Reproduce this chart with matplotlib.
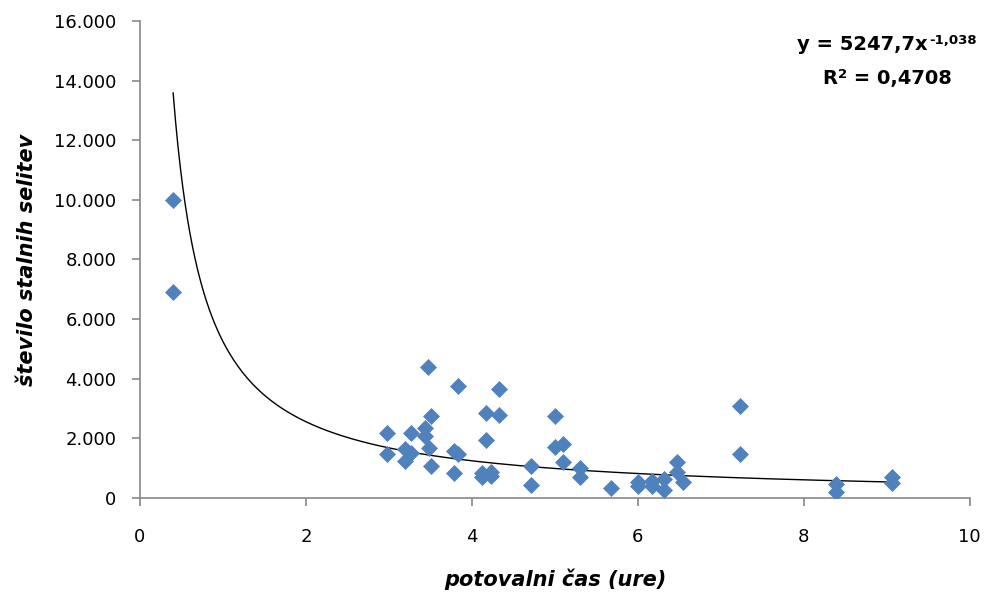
import numpy as np
import matplotlib
matplotlib.use("Agg")
from matplotlib import pyplot as plt
from matplotlib.ticker import FuncFormatter

# travel time (hours) vs. number of permanent migrations
cas = [0.4, 0.4,
       3.47, 3.83, 4.33, 3.51, 4.17, 4.33, 5.0, 2.98, 3.27, 3.43, 3.43, 4.17,
       2.98, 3.19, 3.27, 3.19, 3.48, 3.79, 3.83, 3.51, 3.79, 4.12, 4.12, 4.23,
       4.23, 4.71, 4.71, 5.0, 5.10, 5.10, 5.30, 5.30, 5.68,
       6.0, 6.0, 6.17, 6.17, 6.32, 6.32, 6.47, 6.47, 6.54, 7.23, 7.23,
       8.39, 8.39, 9.06, 9.06]
selitve = [10000, 6900,
           4390, 3770, 3660, 2760, 2840, 2790, 2760, 2180, 2180, 2360, 2060, 1950,
           1480, 1640, 1520, 1240, 1670, 1580, 1480, 1080, 850, 850, 710, 880,
           720, 1070, 440, 1700, 1800, 1190, 1000, 700, 330,
           550, 400, 570, 400, 630, 270, 1200, 880, 550, 3090, 1480,
           470, 210, 700, 510]

# power trend line from the chart
a_coef = 5247.7
b_exp = -1.038

fig = plt.figure(figsize=(9.89, 5.97), dpi=100)
ax = fig.add_axes([0.1415, 0.166, 0.839, 0.799])

xt = np.linspace(min(cas), max(cas), 300)
ax.plot(xt, a_coef * xt ** b_exp, color='black', lw=1)
ax.plot(cas, selitve, ls='none', marker='D', ms=8.3, color='#4F81BD', mec='#4F81BD', mew=0.5, zorder=3)

ax.set_xlim(0, 10)
ax.set_ylim(0, 16000)
ax.set_xticks([0, 2, 4, 6, 8, 10])
ax.set_yticks(np.arange(0, 16001, 2000))
ax.yaxis.set_major_formatter(FuncFormatter(lambda v, p: '{:,.0f}'.format(v).replace(',', '.')))

for s in ['top', 'right']:
	ax.spines[s].set_visible(False)
for s in ['left', 'bottom']:
	ax.spines[s].set_color('#888888')
	ax.spines[s].set_linewidth(1.2)
ax.tick_params(axis='both', colors='#888888', labelcolor='black', length=6, width=1.2, labelsize=13)
ax.tick_params(axis='x', pad=16)
ax.tick_params(axis='y', pad=11)

ax.set_xlabel('potovalni čas (ure)', fontsize=15, fontweight='bold', style='italic', labelpad=16)
ax.set_ylabel('število stalnih selitev', fontsize=15, fontweight='bold', style='italic', labelpad=12)

# trend line equation
eq_fs = 14
sup_fs = 9.5
t1 = fig.text(797/989, 1 - 50/597, 'y = 5247,7x', fontsize=eq_fs, fontweight='bold', va='baseline', ha='left')
ax.annotate('-1,038', xy=(1, 1), xycoords=t1, xytext=(1, 1), textcoords='offset points',
	fontsize=sup_fs, fontweight='bold', va='top', ha='left')
t2 = fig.text(822/989, 1 - 84/597, 'R', fontsize=eq_fs, fontweight='bold', va='baseline', ha='left')
s2 = ax.annotate('2', xy=(1, 1), xycoords=t2, xytext=(0.5, 1), textcoords='offset points',
	fontsize=sup_fs, fontweight='bold', va='top', ha='left')
ax.annotate(' = 0,4708', xy=(1, 0), xycoords=(s2, t2), fontsize=eq_fs, fontweight='bold',
	va='bottom', ha='left')

fig.savefig('out.png', dpi=100)
